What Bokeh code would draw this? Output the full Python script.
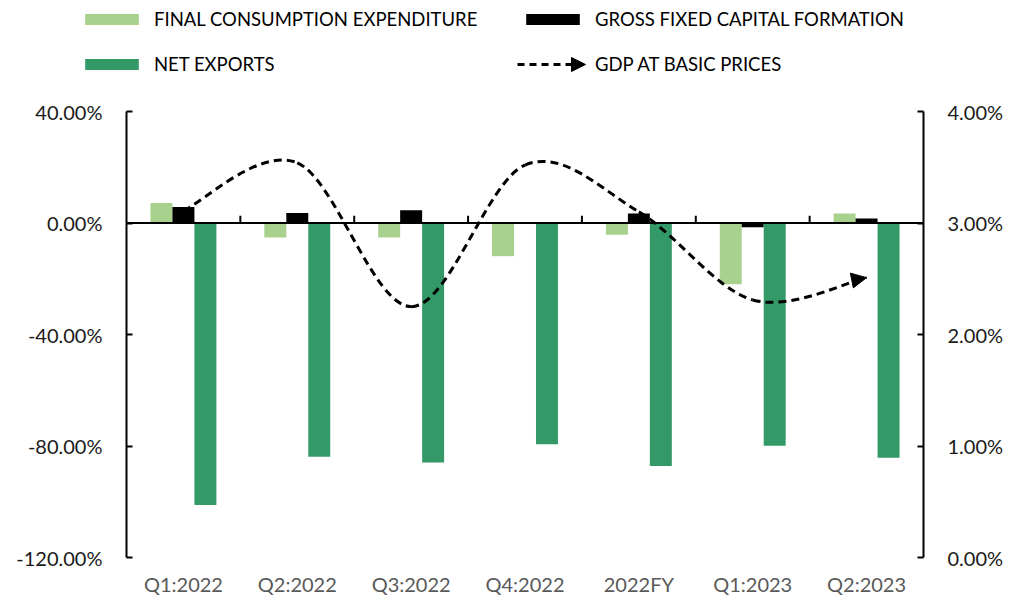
import numpy as np
from bokeh.plotting import figure
from bokeh.layouts import column
from bokeh.models import (Range1d, LinearAxis, Legend, LegendItem, Span, Arrow,
                          NormalHead, FixedTicker, PrintfTickFormatter)
from bokeh.embed import file_html
from bokeh.resources import INLINE

# ---- data -------------------------------------------------------------
categories = ["Q1:2022", "Q2:2022", "Q3:2022", "Q4:2022", "2022FY", "Q1:2023", "Q2:2023"]
final_consumption = [7.2, -5.2, -5.2, -11.9, -4.2, -22.0, 3.4]
gross_fixed_capital = [5.7, 3.6, 4.6, 0.2, 3.4, -1.5, 1.6]
net_exports = [-101.2, -83.9, -85.9, -79.4, -87.2, -79.9, -84.2]
gdp_basic_prices = [3.11, 3.54, 2.25, 3.52, 3.10, 2.31, 2.51]
left_ticks = [-120, -80, -40, 0, 40]
right_ticks = [0, 1, 2, 3, 4]
series_names = ["FINAL CONSUMPTION EXPENDITURE", "GROSS FIXED CAPITAL FORMATION",
                "NET EXPORTS", "GDP AT BASIC PRICES"]

# ---- styles -----------------------------------------------------------
FONT = "Lato"
C_FCE = "#A9D18E"
C_GCF = "#000000"
C_NE = "#339966"
BAR_W = 0.193
W = 1009
LEG_H = 95

n = len(categories)
xs = np.arange(n) + 0.5

# ---- main chart -------------------------------------------------------
p = figure(width=W, height=503, x_range=Range1d(0, n), y_range=Range1d(-120, 40),
           output_backend="svg", toolbar_location=None,
           min_border_left=126, min_border_right=W - 923, min_border_top=16, min_border_bottom=39)
p.outline_line_color = None
p.xgrid.visible = False
p.ygrid.visible = False
p.extra_y_ranges = {"gdp": Range1d(0, 4)}

p.vbar(x=xs - BAR_W, top=final_consumption, width=BAR_W, fill_color=C_FCE, line_color=None)
p.vbar(x=xs, top=gross_fixed_capital, width=BAR_W, fill_color=C_GCF, line_color=None)
p.vbar(x=xs + BAR_W, top=net_exports, width=BAR_W, fill_color=C_NE, line_color=None)

# zero line with category boundary ticks
p.add_layout(Span(location=0, dimension="width", line_color="black", line_width=2))
bounds = np.arange(1, n)
p.segment(x0=bounds, y0=np.zeros(len(bounds)), x1=bounds, y1=np.full(len(bounds), 2.6),
          line_color="black", line_width=2)

# smoothed GDP line (Catmull-Rom style bezier segments)
gy = np.array(gdp_basic_prices, dtype=float)
gx = xs.astype(float)
def tangent(i):
    if i == 0:
        return (gx[1] - gx[0]) / 2, (gy[1] - gy[0]) / 2
    if i == n - 1:
        return (gx[-1] - gx[-2]) / 2, (gy[-1] - gy[-2]) / 2
    return (gx[i + 1] - gx[i - 1]) / 2, (gy[i + 1] - gy[i - 1]) / 2
x0, y0, x1, y1, cx0, cy0, cx1, cy1 = ([] for _ in range(8))
for i in range(n - 1):
    tx0, ty0 = tangent(i)
    tx1, ty1 = tangent(i + 1)
    x0.append(gx[i]); y0.append(gy[i]); x1.append(gx[i + 1]); y1.append(gy[i + 1])
    cx0.append(gx[i] + tx0 / 3); cy0.append(gy[i] + ty0 / 3)
    cx1.append(gx[i + 1] - tx1 / 3); cy1.append(gy[i + 1] - ty1 / 3)
p.bezier(x0=x0, y0=y0, x1=x1, y1=y1, cx0=cx0, cy0=cy0, cx1=cx1, cy1=cy1,
         y_range_name="gdp", line_color="black", line_width=3, line_dash="8 5")
p.add_layout(Arrow(end=NormalHead(size=15, fill_color="black", line_color="black"),
                   x_start=cx1[-1], y_start=cy1[-1], x_end=gx[-1], y_end=gy[-1],
                   y_range_name="gdp", line_color=None))

# axes
p.yaxis.ticker = FixedTicker(ticks=left_ticks)
p.yaxis.formatter = PrintfTickFormatter(format="%.2f%%")
ax_r = LinearAxis(y_range_name="gdp", ticker=FixedTicker(ticks=right_ticks),
                  formatter=PrintfTickFormatter(format="%.2f%%"))
p.add_layout(ax_r, "right")
for ax in (p.yaxis[0], ax_r):
    ax.axis_line_width = 2
    ax.axis_line_color = "black"
    ax.major_tick_in = 6
    ax.major_tick_out = 0
    ax.major_tick_line_width = 2
    ax.minor_tick_line_color = None
    ax.major_label_standoff = 24
    ax.major_label_text_font = FONT
    ax.major_label_text_font_size = "20px"
    ax.major_label_text_color = "#1a1a1a"

p.xaxis.ticker = FixedTicker(ticks=list(xs))
p.xaxis.major_label_overrides = {float(x): c for x, c in zip(xs, categories)}
p.xaxis.axis_line_color = None
p.xaxis.major_tick_line_color = None
p.xaxis.minor_tick_line_color = None
p.xaxis.major_label_standoff = 8
p.xaxis.major_label_text_font = FONT
p.xaxis.major_label_text_font_size = "20px"
p.xaxis.major_label_text_color = "#595959"

# ---- legend strip ------------------------------------------------------
lg = figure(width=W, height=LEG_H, x_range=Range1d(0, W), y_range=Range1d(0, LEG_H),
            x_axis_type=None, y_axis_type=None, output_backend="svg", toolbar_location=None,
            min_border=0)
lg.frame_align = False
lg.outline_line_color = None
lg.xgrid.visible = False
lg.ygrid.visible = False
# key renderers: a single point each, placed far outside the visible range
k_fce = lg.vbar(x=[-5000], top=[-5000], width=1, fill_color=C_FCE, line_color=None)
k_gcf = lg.vbar(x=[-5000], top=[-5000], width=1, fill_color=C_GCF, line_color=None)
k_ne = lg.vbar(x=[-5000], top=[-5000], width=1, fill_color=C_NE, line_color=None)
k_gdp = lg.line(x=[-5000, -4990], y=[-5000, -5000], line_color="black", line_width=3,
                line_dash="7 5")

def place(page_x, page_cy):
    return (page_x, LEG_H - (page_cy + 12))

def make_legend(label, rend, loc, glyph_width=67, standoff=9):
    leg = Legend(items=[LegendItem(label=label, renderers=[rend])], location=loc,
                 orientation="horizontal", glyph_width=glyph_width, glyph_height=14,
                 label_standoff=standoff, label_height=24, padding=0, margin=0, spacing=0,
                 border_line_color=None, background_fill_alpha=0,
                 label_text_font=FONT, label_text_font_size="18.5px", label_text_color="black")
    lg.add_layout(leg, "center")

make_legend(series_names[0], k_fce, place(78, 19))
make_legend(series_names[1], k_gcf, place(519, 19))
make_legend(series_names[2], k_ne, place(78, 64))
make_legend(series_names[3], k_gdp, place(517, 64), glyph_width=54, standoff=24)
lg.add_layout(Arrow(end=NormalHead(size=14, fill_color="black", line_color="black"),
                    x_start=568, y_start=LEG_H - 64, x_end=585, y_end=LEG_H - 64,
                    line_color=None))

open("out.html", "w").write(file_html(column(lg, p), INLINE))
